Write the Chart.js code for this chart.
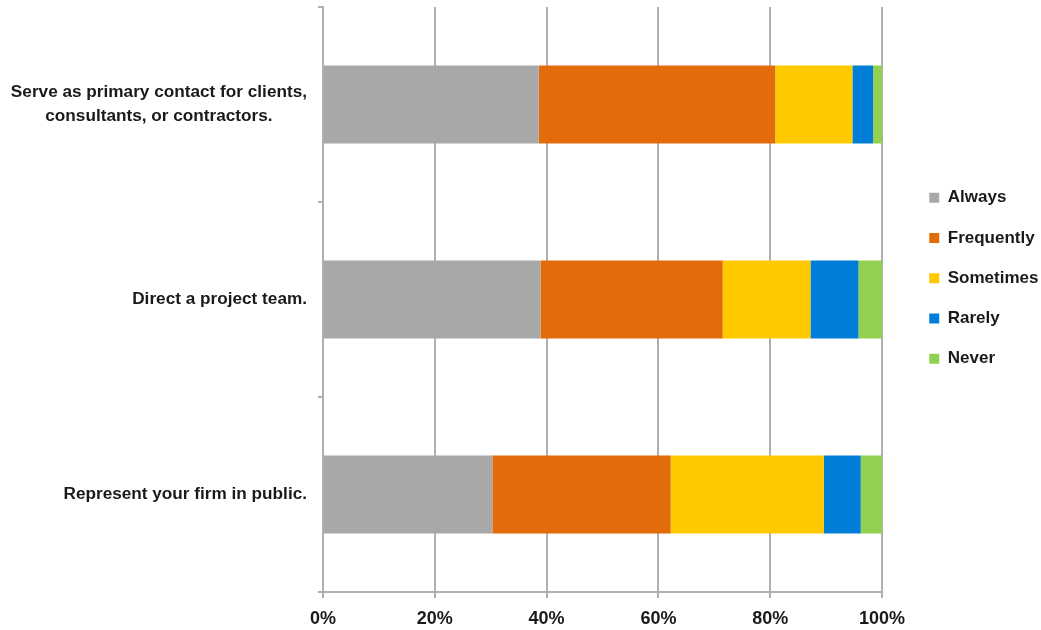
<!DOCTYPE html>
<html><head><meta charset="utf-8">
<script src="https://cdn.jsdelivr.net/npm/chart.js@4/dist/chart.umd.min.js"></script>
<style>html,body{margin:0;padding:0;background:#fff;}</style>
</head><body>
<canvas id="c" width="1041" height="630"></canvas>
<script>
// ---- data ----
const categories = [
  ["Serve as primary contact for clients,", "consultants, or contractors."],
  ["Direct a project team."],
  ["Represent your firm in public."]
];
const seriesNames = ["Always", "Frequently", "Sometimes", "Rarely", "Never"];
const always     = [38.6, 38.9, 30.3];
const frequently = [42.3, 32.6, 31.9];
const sometimes  = [13.8, 15.7, 27.4];
const rarely     = [3.7, 8.6, 6.6];
const never      = [1.6, 4.2, 3.8];
const xTickValues = [0, 20, 40, 60, 80, 100];

// ---- styles ----
const FONT_FAMILY = '"Liberation Sans", Arial, Helvetica, sans-serif';
const TEXT_COLOR = '#1a1a1a';
const GRID_COLOR = '#b0b0b0';
const seriesColors = ['#a8a8a8', '#e36c0a', '#ffc900', '#007dd6', '#92d050'];
const Y_AXIS_WIDTH = 323, X_AXIS_HEIGHT = 38, LABEL_GAP = 16, LINE_H = 24;
const LEGEND_W = 159, LEGEND_DX = 24, LEGEND_DY = 159;

const seriesValues = [always, frequently, sometimes, rarely, never];

const yLabelPlugin = {
  id: 'yLabels',
  afterDraw(chart) {
    const ys = chart.scales.y, ctx = chart.ctx;
    ctx.save();
    ctx.font = 'bold 17.2px ' + FONT_FAMILY;
    ctx.fillStyle = TEXT_COLOR;
    ctx.textAlign = 'center';
    ctx.textBaseline = 'middle';
    chart.data.labels.forEach((lab, i) => {
      const lines = Array.isArray(lab) ? lab : [lab];
      const w = Math.max(...lines.map(l => ctx.measureText(l).width));
      const cx = ys.right - LABEL_GAP - w / 2;
      const cy = ys.getPixelForValue(i);
      lines.forEach((l, k) => ctx.fillText(l, cx, cy + (k - (lines.length - 1) / 2) * LINE_H));
    });
    ctx.restore();
  }
};

const legendPlace = {
  id: 'legendPlace',
  beforeLayout(chart) {
    const lg = chart.legend;
    if (lg && !lg.__patched) {
      const f = lg.fit;
      lg.fit = function () { f.call(this); this.width = LEGEND_W; };
      lg.__patched = true;
    }
  },
  afterLayout(chart) {
    const lg = chart.legend;
    if (lg) {
      lg.left += LEGEND_DX; lg.right += LEGEND_DX;
      lg.top += LEGEND_DY; lg.bottom += LEGEND_DY;
    }
  }
};

new Chart(document.getElementById('c'), {
  type: 'bar',
  data: {
    labels: categories,
    datasets: seriesNames.map((name, i) => ({
      label: name,
      data: seriesValues[i],
      backgroundColor: seriesColors[i],
      borderWidth: 0,
      barPercentage: 0.4,
      categoryPercentage: 1.0
    }))
  },
  options: {
    indexAxis: 'y',
    responsive: false,
    animation: false,
    devicePixelRatio: 1,
    layout: { padding: { top: 7, left: 0, right: 0, bottom: 0 } },
    scales: {
      x: {
        stacked: true,
        min: 0, max: 100,
        afterBuildTicks: s => { s.ticks = xTickValues.map(v => ({ value: v })); },
        afterFit: s => { s.height = X_AXIS_HEIGHT; },
        grid: { color: GRID_COLOR, lineWidth: 2, tickLength: 6, drawTicks: true },
        border: { color: GRID_COLOR, width: 2 },
        ticks: {
          padding: 10,
          color: TEXT_COLOR,
          font: { family: FONT_FAMILY, size: 18, weight: 'bold' },
          callback: v => v + '%',
          maxRotation: 0
        }
      },
      y: {
        stacked: true,
        afterFit: s => { s.width = Y_AXIS_WIDTH; },
        grid: { color: GRID_COLOR, lineWidth: 2, drawOnChartArea: false, drawTicks: true, tickLength: 5, offset: true },
        border: { color: GRID_COLOR, width: 2 },
        ticks: { display: false }
      }
    },
    plugins: {
      legend: {
        position: 'right',
        align: 'start',
        labels: {
          boxWidth: 10, boxHeight: 10, padding: 23.25,
          color: TEXT_COLOR,
          font: { family: FONT_FAMILY, size: 17, weight: 'bold' }
        }
      },
      tooltip: { enabled: false }
    }
  },
  plugins: [yLabelPlugin, legendPlace]
});
</script>
</body></html>
